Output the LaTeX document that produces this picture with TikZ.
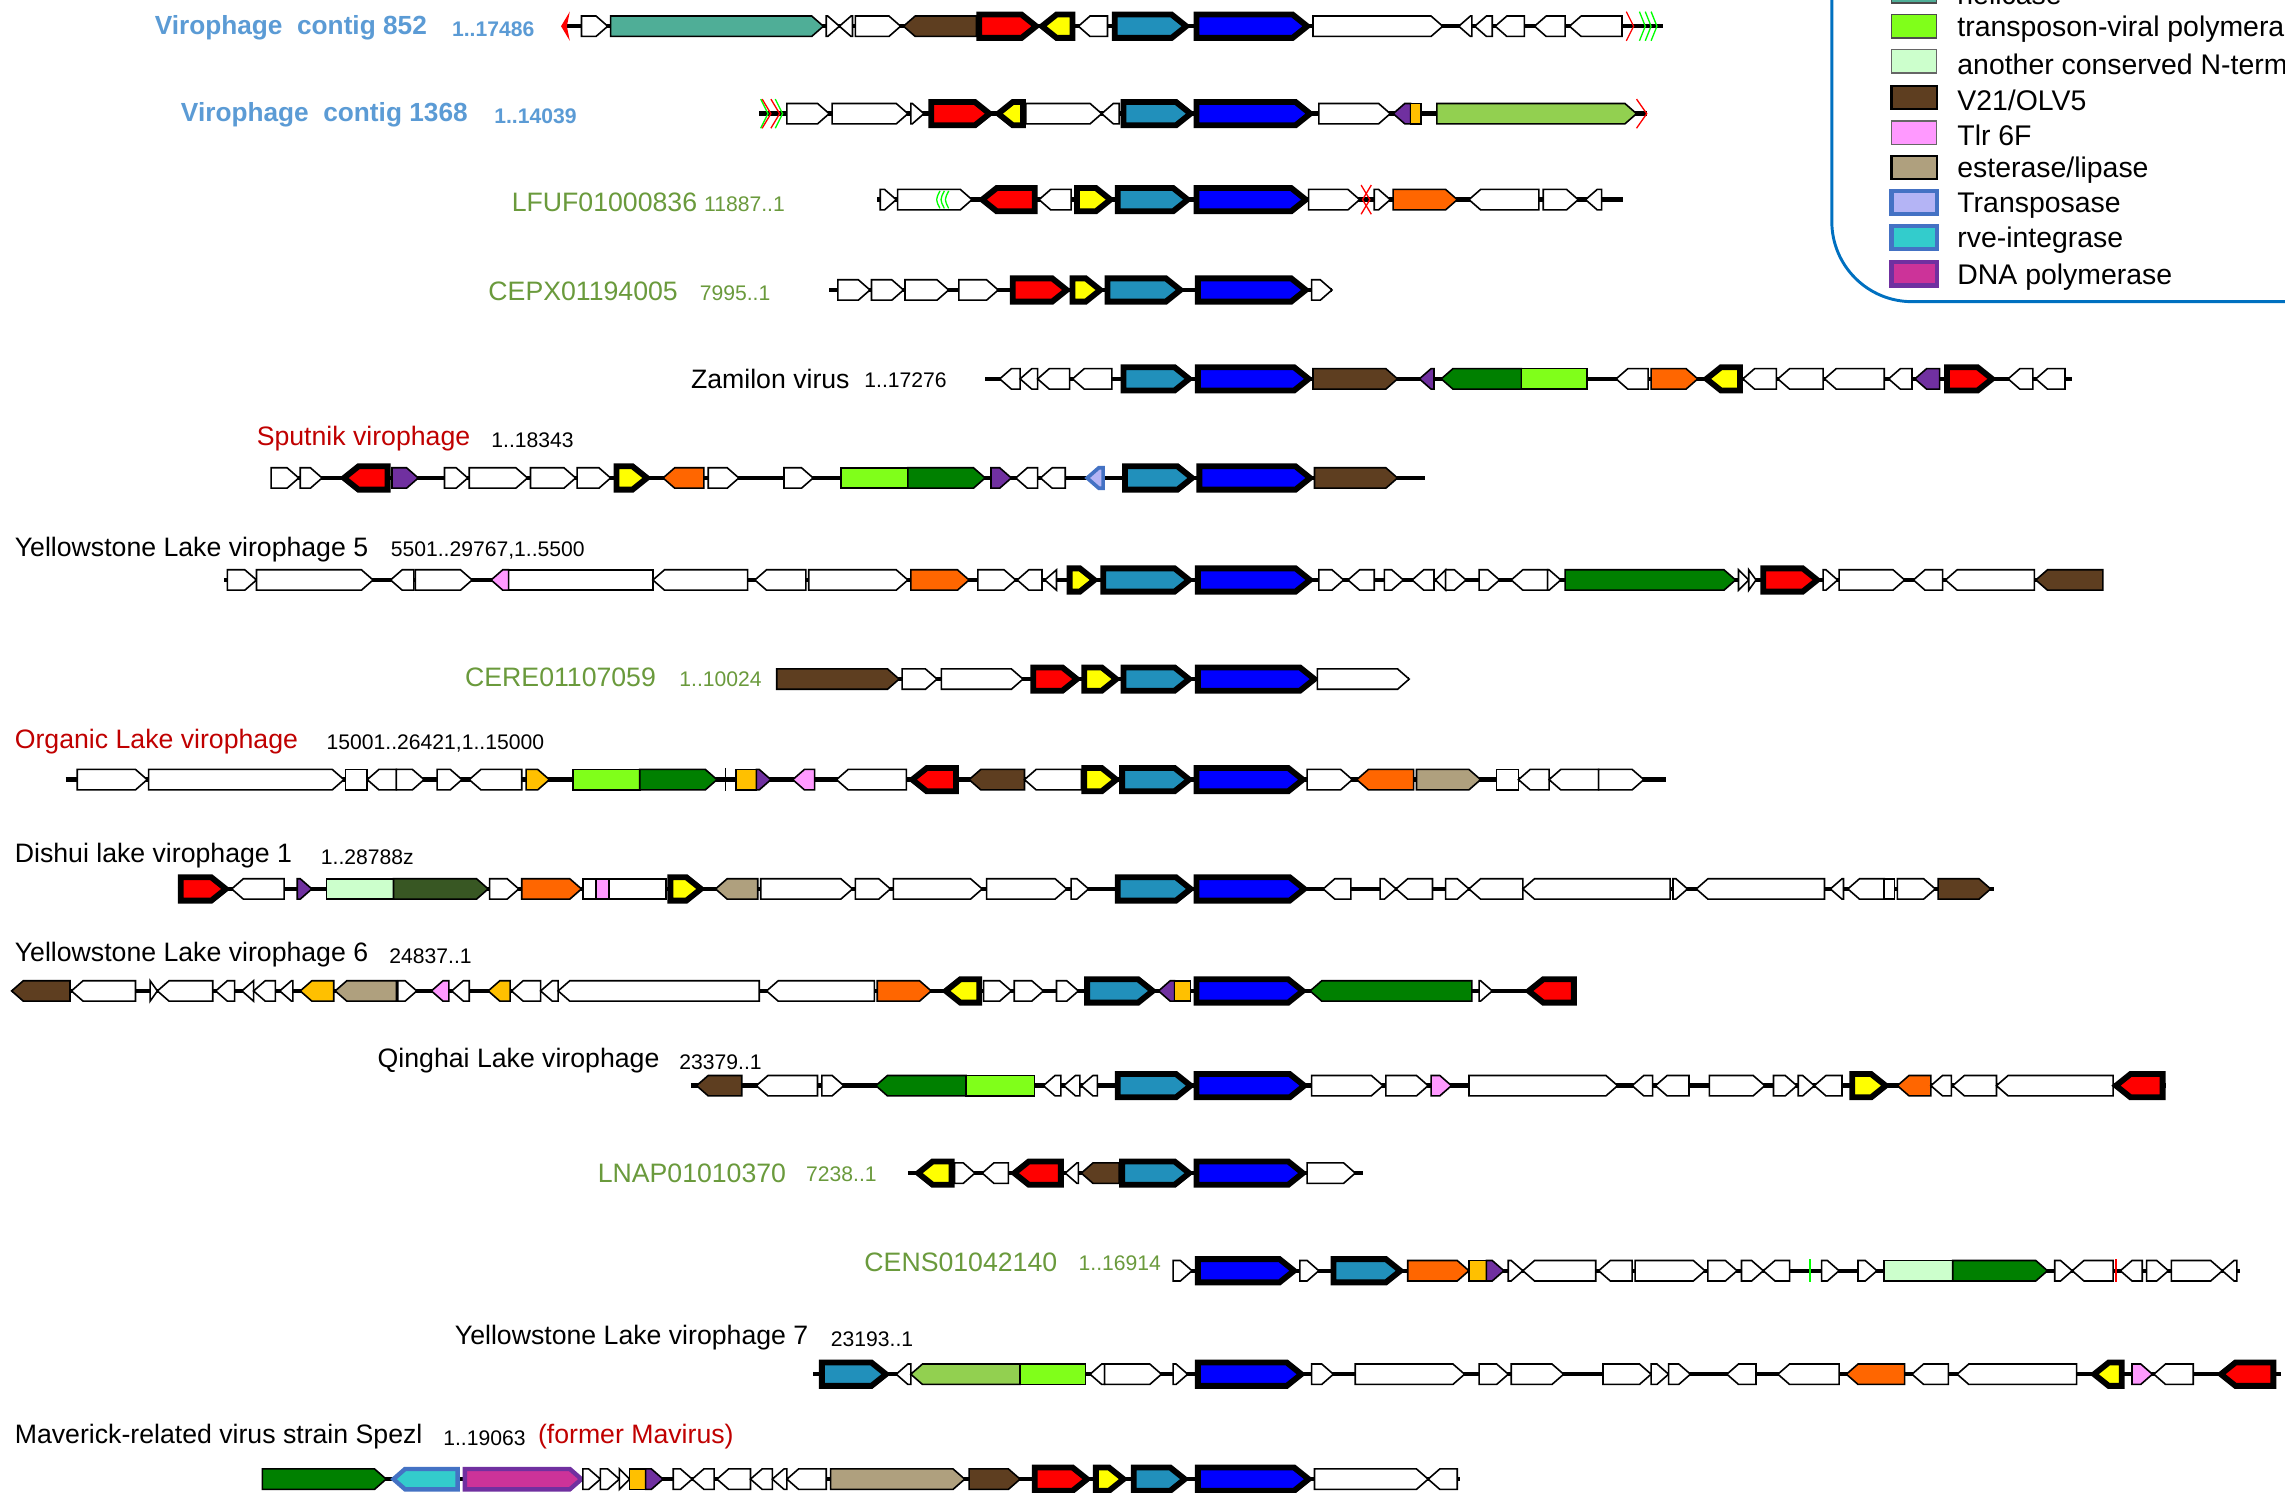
\documentclass[tikz,border=0pt]{standalone}
\usepackage{fontspec}
\setmainfont{Liberation Sans}
\definecolor{hel}{HTML}{4FAE97}
\definecolor{cR}{HTML}{FF0000}
\definecolor{cY}{HTML}{FFFF00}
\definecolor{cC}{HTML}{2190BB}
\definecolor{cB}{HTML}{0000FF}
\definecolor{brn}{HTML}{5E3E20}
\definecolor{org}{HTML}{FF6600}
\definecolor{oy}{HTML}{FFC000}
\definecolor{pur}{HTML}{7030A0}
\definecolor{lg}{HTML}{92D050}
\definecolor{bg}{HTML}{80FF1A}
\definecolor{dg}{HTML}{008000}
\definecolor{mint}{HTML}{CCFFCC}
\definecolor{olv}{HTML}{385723}
\definecolor{pnk}{HTML}{FF99FF}
\definecolor{est}{HTML}{AFA07E}
\definecolor{lav}{HTML}{B4B4F5}
\definecolor{rve}{HTML}{33CCCC}
\definecolor{mag}{HTML}{CC3399}
\definecolor{bdb}{HTML}{4472C4}
\definecolor{lblue}{HTML}{5B9BD5}
\definecolor{lgrn}{HTML}{6A9A3C}
\definecolor{lred}{HTML}{C00000}
\definecolor{legb}{HTML}{0070C0}
\definecolor{mkg}{HTML}{00FF00}
\tikzset{
  gene/.style={draw=black,line width=1.1pt,line join=miter},
  core/.style={draw=black,line width=4pt,line join=miter,miter limit=10},
  bbone/.style={line width=3pt},
  nm/.style={anchor=west,inner sep=0pt,yshift=-2pt,font=\fontsize{18.3}{20}\selectfont},
  num/.style={anchor=west,inner sep=0pt,yshift=-2pt,font=\fontsize{14.5}{16}\selectfont},
  legt/.style={anchor=west,inner sep=0pt,yshift=-2pt,font=\fontsize{19.5}{22}\selectfont}
}
\def\hh{7}
\def\ch{8}
\def\tipl{8}
\def\ctipl{10}
\newcommand\bb[2]{\draw[bbone] ({#1},{\Y}) -- ({#2},{\Y});}
\newcommand\gR[4][]{\pgfmathsetmacro\tp{min(\tipl,#3-#2)}%
  \filldraw[gene,fill=#4,#1] ({#2},{\Y-\hh}) -- ({#3-\tp},{\Y-\hh}) -- ({#3},{\Y}) -- ({#3-\tp},{\Y+\hh}) -- ({#2},{\Y+\hh}) -- cycle;}
\newcommand\gL[4][]{\pgfmathsetmacro\tp{min(\tipl,#3-#2)}%
  \filldraw[gene,fill=#4,#1] ({#3},{\Y-\hh}) -- ({#2+\tp},{\Y-\hh}) -- ({#2},{\Y}) -- ({#2+\tp},{\Y+\hh}) -- ({#3},{\Y+\hh}) -- cycle;}
\newcommand\gN[3]{\filldraw[gene,fill=#3] ({#1},{\Y-\hh}) rectangle ({#2},{\Y+\hh});}
\newcommand\cR[3]{\pgfmathsetmacro\tp{min(\ctipl,#2-#1)}%
  \filldraw[core,fill=#3] ({#1},{\Y-\ch}) -- ({#2-\tp},{\Y-\ch}) -- ({#2},{\Y}) -- ({#2-\tp},{\Y+\ch}) -- ({#1},{\Y+\ch}) -- cycle;}
\newcommand\cL[3]{\pgfmathsetmacro\tp{min(\ctipl,#2-#1)}%
  \filldraw[core,fill=#3] ({#2},{\Y-\ch}) -- ({#1+\tp},{\Y-\ch}) -- ({#1},{\Y}) -- ({#1+\tp},{\Y+\ch}) -- ({#2},{\Y+\ch}) -- cycle;}
\newcommand\mkR[3]{\draw[#3,line width=0.9pt] ({#1},{\Y-10}) -- ({#2},{\Y}) -- ({#1},{\Y+10});}
\newcommand\mkL[3]{\draw[#3,line width=0.9pt] ({#2},{\Y-10}) -- ({#1},{\Y}) -- ({#2},{\Y+10});}
\newcommand\vl[2]{\draw[#2,line width=1pt] ({#1},{\Y-8}) -- ({#1},{\Y+8});}
\newcommand\legitem[6]{\filldraw[fill=#2,draw=#3,line width=#4] (1298,{#1-8}) rectangle (1329,{#1+8});
  \node[legt] (#6) at (1343,#1) {#5};}
\begin{document}
\begin{tikzpicture}[x=1pt,y=-1pt]
\useasboundingbox (0,0) rectangle (1568,1024);
\clip (0,0) rectangle (1568,1024);
\fill[white] (0,0) rectangle (1568,1024);

% ---------------- legend
\draw[legb,line width=2pt,rounded corners=55] (1257,-40) -- (1257,207) -- (1620,207);
\legitem{-6}{hel}{black!70}{1pt}{helicase}{l0}
\legitem{18}{bg}{black!70}{1pt}{transposon-viral polymerase}{l1}
\legitem{42}{mint}{black!60}{1pt}{another conserved N-terminal domain}{l2}
\legitem{67}{brn}{black}{1.6pt}{V21/OLV5}{l3}
\legitem{91}{pnk}{black!60}{1pt}{Tlr 6F}{l4}
\legitem{115}{est}{black}{1.6pt}{esterase/lipase}{l5}
\legitem{139}{lav}{bdb}{3pt}{Transposase}{l6}
\legitem{163}{rve}{bdb}{3pt}{rve-integrase}{l7}
\legitem{188}{mag}{pur}{3pt}{DNA polymerase}{l8}

% ---------------- labels
\node[nm,text=lblue,font=\bfseries\fontsize{18}{20}\selectfont] (t1) at (106,17) {Virophage~~contig 852};
\node[num,text=lblue,font=\bfseries\fontsize{14.5}{16}\selectfont] (u1) at (310,18) {1..17486};
\node[nm,text=lblue,font=\bfseries\fontsize{18}{20}\selectfont] (t2) at (124,77) {Virophage~~contig 1368};
\node[num,text=lblue,font=\bfseries\fontsize{14.5}{16}\selectfont] (u2) at (339,78) {1..14039};
\node[nm,text=lgrn] (t3) at (351,137) {LFUF01000836};
\node[num,text=lgrn] (u3) at (483,138) {11887..1};
\node[nm,text=lgrn] (t4) at (335,198) {CEPX01194005};
\node[num,text=lgrn] (u4) at (480,199) {7995..1};
\node[nm] (t5) at (474,258) {Zamilon virus};
\node[num] (u5) at (593,259) {1..17276};
\node[nm,text=lred] (t6) at (176,299) {Sputnik virophage};
\node[num] (u6) at (337,300) {1..18343};
\node[nm] (t7) at (10,375) {Yellowstone Lake virophage 5};
\node[num] (u7) at (268,376) {5501..29767,1..5500};
\node[nm,text=lgrn] (t8) at (319,463) {CERE01107059};
\node[num,text=lgrn] (u8) at (466,464) {1..10024};
\node[nm,text=lred] (t9) at (10,507) {Organic Lake virophage};
\node[num] (u9) at (224,508) {15001..26421,1..15000};
\node[nm] (t10) at (10,585) {Dishui lake virophage 1};
\node[num] (u10) at (220,586) {1..28788z};
\node[nm] (t11) at (10,653) {Yellowstone Lake virophage 6};
\node[num] (u11) at (267,654) {24837..1};
\node[nm] (t12) at (259,726) {Qinghai Lake virophage};
\node[num] (u12) at (466,727) {23379..1};
\node[nm,text=lgrn] (t13) at (410,803) {LNAP01010370};
\node[num,text=lgrn] (u13) at (553,804) {7238..1};
\node[nm,text=lgrn] (t14) at (593,864) {CENS01042140};
\node[num,text=lgrn] (u14) at (740,865) {1..16914};
\node[nm] (t15) at (312,916) {Yellowstone Lake virophage 7};
\node[num] (u15) at (570,917) {23193..1};
\node[nm] (t16) at (10,984) {Maverick-related virus strain Spezl};
\node[num] (u16) at (304,985) {1..19063};
\node[nm,text=lred] (v16) at (369,984) {(former Mavirus)};

% ---------------- row 1
\def\Y{18}
\bb{386}{1141}
\fill[red] (391,{\Y-10}) -- (385,\Y) -- (391,{\Y+10}) -- (389,\Y) -- cycle;
\gR{399}{417}{white}
\gR{419}{565}{hel}
\gR{567}{576}{white}
\gL{576}{585}{white}
\gR{587}{618}{white}
\gL{620}{670}{brn}
\cR{672}{711}{cR}
\cL{715}{736}{cY}
\gL{740}{760}{white}
\cR{765}{814}{cC}
\cR{821}{897}{cB}
\gR{901}{990}{white}
\gL{1001}{1010}{white}
\gL{1012}{1024}{white}
\gL{1026}{1046}{white}
\gL{1053}{1074}{white}
\gL{1077}{1113}{white}
\mkR{1116}{1121}{red}
\mkR{1125}{1129}{mkg}
\mkR{1129}{1133}{mkg}
\mkR{1133}{1137}{mkg}

% ---------------- row 2
\def\Y{78}
\bb{521}{1130}
\mkR{522}{527}{mkg}
\mkR{523}{529}{red}
\mkR{529}{535}{red}
\mkR{532}{537}{mkg}
\gR{540}{569}{white}
\gR{571}{623}{white}
\gR{625}{634}{white}
\cR{639}{679}{cR}
\cL{685}{702}{cY}
\gR{704}{756}{white}
\gL{756}{768}{white}
\cR{771}{817}{cC}
\cR{821}{899}{cB}
\gR{905}{954}{white}
\gL{956}{968}{pur}
\gN{968}{975}{oy}
\gR{986}{1123}{lg}
\mkR{1123}{1130}{red}

% ---------------- row 3
\def\Y{137}
\bb{602}{1114}
\gR{604}{615}{white}
\gR{616}{667}{white}
\foreach \gx in {645,648,651}{\draw[mkg,line width=0.9pt] (\gx,{\Y-6}) .. controls ({\gx-3},\Y) .. (\gx,{\Y+6});}
\cL{674}{710}{cR}
\gL{713}{735}{white}
\cR{739}{762}{cY}
\cR{767}{815}{cC}
\cR{821}{896}{cB}
\gR{898}{933}{white}
\mkR{934}{940}{red}
\mkL{935}{941}{red}
\gR{943}{954}{white}
\gR{956}{1000}{org}
\gL{1008}{1056}{white}
\gR{1059}{1083}{white}
\gL{1088}{1099}{white}

% ---------------- row 4
\def\Y{199}
\bb{569}{914}
\gR{575}{597}{white}
\gR{598}{620}{white}
\gR{621}{651}{white}
\gR{658}{685}{white}
\cR{695}{732}{cR}
\cR{736}{755}{cY}
\cR{760}{810}{cC}
\cR{822}{896}{cB}
\gR{900}{914}{white}

% ---------------- row 5
\def\Y{260}
\bb{676}{1422}
\gL{686}{700}{white}
\gL{700}{712}{white}
\gL{712}{734}{white}
\gL{736}{763}{white}
\cR{771}{816}{cC}
\cR{822}{898}{cB}
\gR{901}{959}{brn}
\gL{974}{984}{pur}
\gL{989}{1044}{dg}
\gN{1044}{1089}{bg}
\gL{1109}{1131}{white}
\gR{1133}{1165}{org}
\cL{1171}{1194}{cY}
\gL{1196}{1219}{white}
\gL{1220}{1251}{white}
\gL{1252}{1293}{white}
\gL{1296}{1312}{white}
\gL{1314}{1331}{pur}
\cR{1336}{1367}{cR}
\gL{1378}{1395}{white}
\gL{1397}{1417}{white}

% ---------------- row 6
\def\Y{328}
\bb{186}{978}
\gR{186}{205}{white}
\gR{206}{221}{white}
\cL{236}{266}{cR}
\gR{269}{287}{pur}
\gR{305}{321}{white}
\gR{322}{362}{white}
\gR{364}{395}{white}
\gR{396}{419}{white}
\cR{423}{444}{cY}
\gL{455}{483}{org}
\gR{486}{507}{white}
\gR{538}{558}{white}
\gN{577}{623}{bg}
\gR{623}{676}{dg}
\gR{680}{694}{pur}
\gL{697}{712}{white}
\gL{714}{731}{white}
\gL[draw=bdb,line width=2.5pt]{746}{757}{lav}
\cR{772}{818}{cC}
\cR{823}{899}{cB}
\gR{902}{959}{brn}

% ---------------- row 7
\def\Y{398}
\bb{154}{1443}
\gR{156}{176}{white}
\gR{176}{256}{white}
\gL{268}{284}{white}
\gR{285}{324}{white}
\gN{349}{448}{white}
\gL{337}{349}{pnk}
\gL{448}{513}{white}
\gL{518}{553}{white}
\gR{555}{623}{white}
\gR{625}{665}{org}
\gR{671}{697}{white}
\gL{698}{715}{white}
\gL{717}{725}{white}
\cR{734}{751}{cY}
\cR{757}{816}{cC}
\cR{822}{899}{cB}
\gR{905}{922}{white}
\gL{925}{943}{white}
\gR{950}{963}{white}
\gL{969}{984}{white}
\gL{985}{992}{white}
\gR{992}{1006}{white}
\gR{1015}{1029}{white}
\gL{1037}{1062}{white}
\gR{1062}{1071}{white}
\gR{1074}{1191}{dg}
\gR{1193}{1200}{white}
\gR{1200}{1205}{white}
\cR{1210}{1247}{cR}
\gR{1251}{1261}{white}
\gR{1262}{1307}{white}
\gL{1313}{1333}{white}
\gL{1335}{1396}{white}
\gL{1397}{1443}{brn}

% ---------------- row 8
\def\Y{466}
\bb{533}{967}
\gR{533}{617}{brn}
\gR{619}{643}{white}
\gR{646}{702}{white}
\cR{709}{739}{cR}
\cR{744}{766}{cY}
\cR{771}{816}{cC}
\cR{822}{902}{cB}
\gR{904}{967}{white}

% ---------------- row 9
\def\Y{535}
\bb{45}{1143}
\gR{53}{101}{white}
\gR{102}{236}{white}
\gN{237}{252}{white}
\gL{252}{272}{white}
\gR{272}{291}{white}
\gR{300}{317}{white}
\gL{322}{358}{white}
\gR{361}{377}{oy}
\gN{393}{439}{bg}
\gR{439}{492}{dg}
\vl{498}{black}
\gN{505}{519}{oy}
\gR{519}{529}{pur}
\gL{544}{559}{pnk}
\gL{574}{622}{white}
\cL{626}{656}{cR}
\gL{665}{703}{brn}
\gL{703}{742}{white}
\cR{744}{766}{cY}
\cR{770}{816}{cC}
\cR{821}{894}{cB}
\gR{897}{928}{white}
\gL{931}{970}{org}
\gR{972}{1016}{est}
\gN{1027}{1042}{white}
\gL{1042}{1063}{white}
\gL{1063}{1097}{white}
\gR{1097}{1128}{white}

% ---------------- row 10
\def\Y{610}
\bb{122}{1368}
\cR{124}{155}{cR}
\gL{159}{195}{white}
\gR{204}{214}{pur}
\gN{224}{270}{mint}
\gR{270}{335}{olv}
\gR{336}{356}{white}
\gR{358}{399}{org}
\gN{400}{418}{white}
\gN{409}{418}{pnk}
\gN{418}{457}{white}
\cR{460}{481}{cY}
\gL{491}{520}{est}
\gR{522}{585}{white}
\gR{587}{611}{white}
\gR{613}{674}{white}
\gR{677}{732}{white}
\gR{735}{747}{white}
\cR{767}{817}{cC}
\cR{821}{895}{cB}
\gL{908}{927}{white}
\gR{947}{958}{white}
\gL{958}{983}{white}
\gR{992}{1008}{white}
\gL{1008}{1045}{white}
\gL{1045}{1146}{white}
\gR{1148}{1158}{white}
\gL{1164}{1252}{white}
\gL{1256}{1265}{white}
\gL{1268}{1293}{white}
\gN{1293}{1300}{white}
\gR{1302}{1328}{white}
\gR{1330}{1366}{brn}

% ---------------- row 11
\def\Y{680}
\bb{8}{1082}
\gL{8}{48}{brn}
\gL{49}{93}{white}
\gR{103}{108}{white}
\gL{108}{146}{white}
\gL{148}{161}{white}
\gL{166}{174}{white}
\gL{174}{189}{white}
\gL{192}{201}{white}
\gL{206}{229}{oy}
\gL{230}{272}{est}
\gR{273}{286}{white}
\gL{296}{308}{pnk}
\gL{310}{322}{white}
\gL{335}{350}{oy}
\gL{351}{371}{white}
\gL{371}{383}{white}
\gL{383}{521}{white}
\gL{526}{600}{white}
\gR{602}{639}{org}
\cL{649}{672}{cY}
\gR{675}{694}{white}
\gR{696}{716}{white}
\gR{725}{740}{white}
\cR{746}{791}{cC}
\gL{795}{806}{pur}
\gN{806}{817}{oy}
\cR{821}{894}{cB}
\gL{899}{1010}{dg}
\gR{1015}{1024}{white}
\cL{1049}{1080}{cR}

% ---------------- row 12
\def\Y{745}
\bb{474}{1486}
\gL{478}{509}{brn}
\gL{519}{561}{white}
\gR{564}{579}{white}
\gL{601}{663}{dg}
\gN{663}{710}{bg}
\gL{716}{728}{white}
\gL{730}{741}{white}
\gL{742}{753}{white}
\cR{767}{817}{cC}
\cR{821}{895}{cB}
\gR{900}{949}{white}
\gR{951}{980}{white}
\gR{982}{996}{pnk}
\gR{1008}{1110}{white}
\gL{1120}{1134}{white}
\gL{1136}{1159}{white}
\gR{1173}{1211}{white}
\gR{1217}{1233}{white}
\gR{1234}{1245}{white}
\gL{1245}{1264}{white}
\cR{1271}{1294}{cY}
\gL{1302}{1325}{org}
\gL{1325}{1339}{white}
\gL{1340}{1370}{white}
\gL{1370}{1450}{white}
\cL{1452}{1484}{cR}

% ---------------- row 13
\def\Y{805}
\bb{623}{935}
\cL{630}{653}{cY}
\gR{655}{669}{white}
\gL{674}{692}{white}
\cL{696}{728}{cR}
\gL{731}{740}{white}
\gL{742}{768}{brn}
\cR{770}{816}{cC}
\cR{821}{894}{cB}
\gR{897}{930}{white}

% ---------------- row 14
\def\Y{872}
\bb{805}{1537}
\gR{805}{818}{white}
\cR{822}{888}{cB}
\gR{892}{905}{white}
\cR{915}{961}{cC}
\gR{966}{1008}{org}
\gN{1008}{1020}{oy}
\gR{1020}{1032}{pur}
\gR{1035}{1045}{white}
\gL{1045}{1095}{white}
\gL{1097}{1120}{white}
\gR{1122}{1170}{white}
\gR{1172}{1192}{white}
\gR{1195}{1210}{white}
\gL{1210}{1228}{white}
\vl{1242}{mkg}
\gR{1250}{1262}{white}
\gR{1275}{1288}{white}
\gN{1293}{1340}{mint}
\gR{1340}{1405}{dg}
\gR{1410}{1422}{white}
\gL{1422}{1450}{white}
\vl{1452}{red}
\gL{1455}{1470}{white}
\gR{1473}{1488}{white}
\gR{1490}{1525}{white}
\gL{1525}{1535}{white}

% ---------------- row 15
\def\Y{943}
\bb{558}{1565}
\cR{564}{608}{cC}
\gL{615}{625}{white}
\gL{625}{700}{lg}
\gN{700}{745}{bg}
\gL{748}{758}{white}
\gR{758}{797}{white}
\gR{805}{815}{white}
\cR{822}{893}{cB}
\gR{900}{915}{white}
\gR{930}{1005}{white}
\gR{1015}{1035}{white}
\gR{1037}{1073}{white}
\gR{1100}{1133}{white}
\gR{1133}{1145}{white}
\gR{1145}{1160}{white}
\gL{1185}{1205}{white}
\gL{1220}{1262}{white}
\gL{1267}{1307}{org}
\gL{1312}{1337}{white}
\gL{1343}{1425}{white}
\cL{1437}{1456}{cY}
\gR{1463}{1477}{pnk}
\gL{1478}{1505}{white}
\cL{1524}{1560}{cR}

% ---------------- row 16
\def\Y{1015}
\bb{180}{1002}
\gR{180}{265}{dg}
\gL[draw=bdb,line width=3pt]{270}{314}{rve}
\gR[draw=pur,line width=3pt]{319}{399}{mag}
\gR{400}{412}{white}
\gR{412}{425}{white}
\gR{425}{432}{white}
\gN{432}{443}{oy}
\gR{443}{455}{pur}
\gR{462}{475}{white}
\gL{475}{490}{white}
\gL{492}{515}{white}
\gL{515}{530}{white}
\gL{530}{540}{white}
\gL{540}{567}{white}
\gR{570}{662}{est}
\gR{665}{700}{brn}
\cR{710}{746}{cR}
\cR{752}{771}{cY}
\cR{778}{813}{cC}
\cR{822}{898}{cB}
\gR{902}{980}{white}
\gL{980}{1000}{white}
\end{tikzpicture}
\end{document}
